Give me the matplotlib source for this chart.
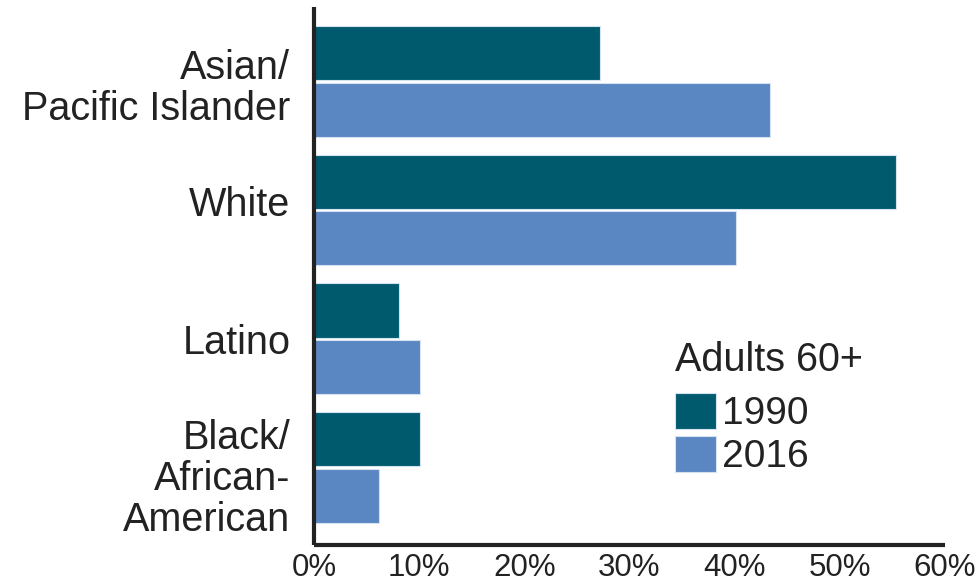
import matplotlib
matplotlib.use("Agg")
import matplotlib.pyplot as plt
import numpy as np

plt.rcParams["font.family"] = ["Liberation Sans", "DejaVu Sans"]

groups = ["Black/\nAfrican-\nAmerican", "Latino", "White", "Asian/\nPacific Islander"]
pct_1990 = [10.1, 8.1, 55.3, 27.2]
pct_2016 = [6.2, 10.1, 40.1, 43.4]
series_names = ["1990", "2016"]
colors = ["#005A6E", "#5A86C2"]
ticks = [0, 10, 20, 30, 40, 50, 60]

fig = plt.figure(figsize=(9.8, 5.84), dpi=100)
ax = fig.add_axes([314 / 980, 1 - 545 / 584, (945 - 314) / 980, (545 - 7) / 584])

y = np.arange(len(groups))
h = 0.42
off = 0.22
ax.barh(y + off, pct_1990, height=h, color=colors[0], edgecolor="#d5e3ee",
        linewidth=0.8, label=series_names[0])
ax.barh(y - off, pct_2016, height=h, color=colors[1], edgecolor="#d5e3ee",
        linewidth=0.8, label=series_names[1])

ax.set_xlim(0, 60)
ax.set_ylim(-0.602, 3.578)
ax.set_xticks(ticks)
ax.set_xticklabels([f"{t}%" for t in ticks], fontsize=22.5, color="#222222")
# the labels in the source sit a little off the group centres
ax.set_yticks(y + np.array([-0.05, 0.0, 0.07, -0.01]))
ax.set_yticklabels(groups, fontsize=28.5, color="#222222", linespacing=1.1)
ax.tick_params(axis="both", length=0)
ax.tick_params(axis="y", pad=17)
ax.tick_params(axis="x", pad=6)

for s in ["top", "right"]:
    ax.spines[s].set_visible(False)
for s in ["left", "bottom"]:
    ax.spines[s].set_linewidth(3)
    ax.spines[s].set_color("#222222")
    ax.spines[s].set_capstyle("butt")

leg = ax.legend(title="Adults 60+", loc="upper left",
                bbox_to_anchor=(675 / 980, 1 - 341 / 584),
                bbox_transform=fig.transFigure, frameon=False,
                fontsize=28, title_fontsize=28.5, borderpad=0,
                handlelength=1.05, handleheight=1.05, handletextpad=0.15,
                labelspacing=0.1, alignment="left", borderaxespad=0)
leg._legend_box.sep = 10
for t in leg.get_texts():
    t.set_color("#222222")
leg.get_title().set_color("#222222")

fig.savefig("out.png", dpi=100)
